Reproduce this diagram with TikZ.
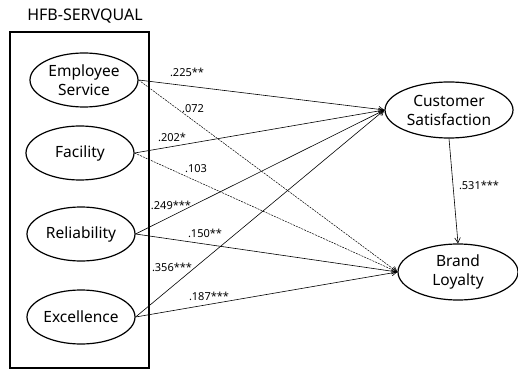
\documentclass[tikz,border=0pt]{standalone}
\usepackage{fontspec}
\setmainfont{Noto Sans}
\usetikzlibrary{arrows.meta,shapes.geometric}

\begin{document}
\begin{tikzpicture}[x=1pt,y=-1pt,>={Straight Barb[length=1.8mm,width=2mm]},
  construct/.style={ellipse,draw,line width=1.2pt,minimum width=108pt,minimum height=54pt,
    inner sep=0pt,align=center,font=\fontsize{15.5}{19}\selectfont},
  coef/.style={font=\fontsize{11}{13}\selectfont,inner sep=0pt},
  effect/.style={->,line width=0.6pt},
  weak/.style={->,line width=0.5pt,dash pattern=on 2pt off 1pt}]
\useasboundingbox (0,0) rectangle (518,371);
% measurement block
\node (title) at (85,16) {\fontsize{16}{18}\selectfont HFB-SERVQUAL};
\draw[line width=1.2pt] (10,32) rectangle (149,368);
\node[construct] (es) at (84,80) {Employee\\Service};
\node[construct] (fac) at (80,153) {Facility};
\node[construct] (rel) at (81,234) {Reliability};
\node[construct] (exc) at (81,317) {Excellence};
% outcomes
\node[construct,minimum width=128pt,minimum height=56pt] (cs) at (449,110) {Customer\\Satisfaction};
\node[construct,minimum width=120pt,minimum height=56pt] (bl) at (458,272) {Brand\\Loyalty};
% paths
\draw[effect] (es.east) -- (cs.west);
\draw[effect] (fac.east) -- (cs.west);
\draw[effect] (rel.east) -- (cs.west);
\draw[effect] (exc.east) -- (cs.west);
\draw[weak] (es.east) -- (bl.west);
\draw[weak] (fac.east) -- (bl.west);
\draw[effect] (rel.east) -- (bl.west);
\draw[effect] (exc.east) -- (bl.west);
\draw[effect] (cs.south) -- (bl.north);
% coefficients
\node[coef] (c1) at (187,72) {.225**};
\node[coef] (c2) at (193,109) {.072};
\node[coef] (c3) at (172,137) {.202*};
\node[coef] (c4) at (196,169) {.103};
\node[coef] (c5) at (171,205) {.249***};
\node[coef] (c6) at (205,233) {.150**};
\node[coef] (c7) at (172,267) {.356***};
\node[coef] (c8) at (209,296) {.187***};
\node[coef] (c9) at (479,185) {.531***};
\end{tikzpicture}
\end{document}
